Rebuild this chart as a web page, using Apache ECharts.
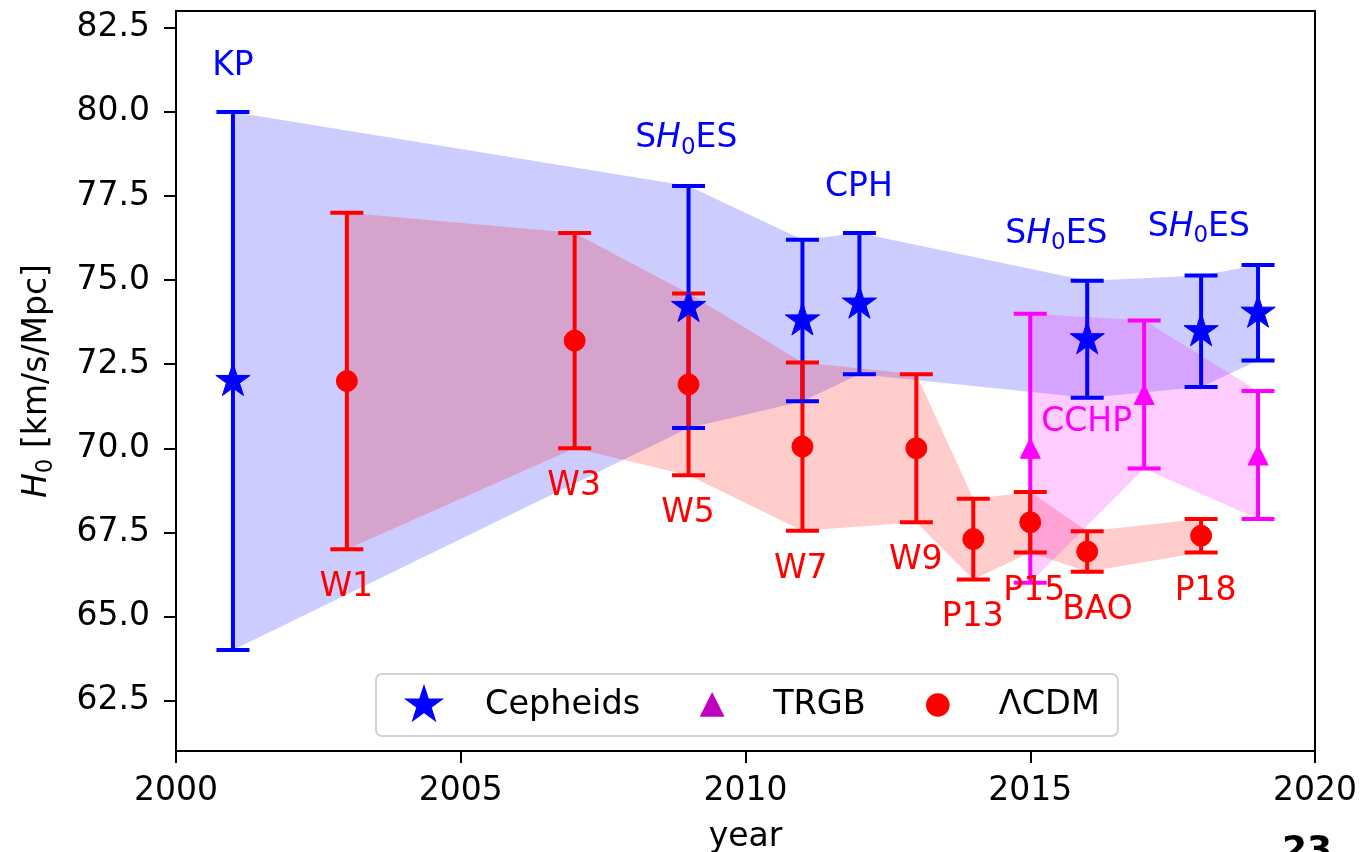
<!DOCTYPE html>
<html>
<head>
<meta charset="utf-8">
<script src="https://cdn.jsdelivr.net/npm/echarts@6/dist/echarts.min.js"></script>
<style>
  html, body { margin: 0; padding: 0; background: #fff; }
  #chart { width: 1365px; height: 852px; }
</style>
</head>
<body>
<div id="chart"></div>
<script>
// H0 measurements by year: value and symmetric 1-sigma error
const cephYear = [2001, 2009, 2011, 2012, 2016, 2018, 2019];
const cephH0   = [72.0, 74.2, 73.8, 74.3, 73.24, 73.48, 74.03];
const cephErr  = [8.0, 3.6, 2.4, 2.1, 1.74, 1.66, 1.42];

const trgbYear = [2015, 2017, 2019];
const trgbH0   = [70.0, 71.6, 69.8];
const trgbErr  = [4.0, 2.2, 1.9];

const lcdmYear = [2003, 2007, 2009, 2011, 2013, 2014, 2015, 2016, 2018];
const lcdmH0   = [72.0, 73.2, 71.9, 70.05, 70.0, 67.3, 67.8, 66.93, 67.4];
const lcdmErr  = [5.0, 3.2, 2.7, 2.5, 2.2, 1.2, 0.9, 0.6, 0.5];

// Text annotations placed in data coordinates
const cephNoteText = ['KP', 'SH0ES', 'CPH', 'SH0ES', 'SH0ES'];
const cephNoteX    = [2001.0, 2008.96, 2011.99, 2015.46, 2017.96];
const cephNoteY    = [81.36, 79.2, 77.75, 76.37, 76.57];

const trgbNoteText = ['CCHP'];
const trgbNoteX    = [2015.99];
const trgbNoteY    = [70.76];

const lcdmNoteText = ['W1', 'W3', 'W5', 'W7', 'W9', 'P13', 'P15', 'BAO', 'P18'];
const lcdmNoteX    = [2002.99, 2006.99, 2008.99, 2010.97, 2012.99, 2013.99, 2015.07, 2016.18, 2018.08];
const lcdmNoteY    = [65.85, 68.86, 68.07, 66.41, 66.66, 64.96, 65.74, 65.19, 65.74];

// Axis ticks
const xTicks = [2000, 2005, 2010, 2015, 2020];
const yTicks = [62.5, 65.0, 67.5, 70.0, 72.5, 75.0, 77.5, 80.0, 82.5];

const FONT = 'DejaVu Sans';
const BLUE = '#0000ff', RED = '#ff0000', MAGENTA = '#ff00ff', PURPLE = '#bf00bf';

// Marker paths; the leading moves pin a square bounding box so the
// glyph sits centred and keeps its proportions.
const STAR = 'path://M0 0M200 200M100 0L122.45 69.1L195.11 69.1L136.33 111.8L158.78 180.9L100 138.2L41.22 180.9L63.67 111.8L4.89 69.1L77.55 69.1Z';
const LEG_TRI = 'path://M0 0M200 200M100 40L160 160L40 160Z';
const LEG_CIRC = 'path://M0 0M200 200M160 100A60 60 0 1 1 40 100A60 60 0 1 1 160 100Z';

function rows(xs, ys, es) {
  return xs.map((x, i) => es ? [x, ys[i], es[i]] : [x, ys[i]]);
}
function noteRows(xs, ys, ts) {
  return xs.map((x, i) => [x, ys[i], ts[i]]);
}

// Shaded band joining the error-bar ends of one group
function bandSeries(xs, ys, es, fill) {
  return {
    type: 'custom',
    silent: true,
    z: 1,
    data: [[xs[0], ys[0]]],
    renderItem: function (params, api) {
      const pts = [];
      for (let i = 0; i < xs.length; i++) pts.push(api.coord([xs[i], ys[i] + es[i]]));
      for (let i = xs.length - 1; i >= 0; i--) pts.push(api.coord([xs[i], ys[i] - es[i]]));
      return { type: 'polygon', shape: { points: pts }, style: { fill: fill } };
    }
  };
}

// Vertical error bars with caps
function errorSeries(xs, ys, es, color) {
  return {
    type: 'custom',
    silent: true,
    z: 2,
    data: rows(xs, ys, es),
    renderItem: function (params, api) {
      const x = api.value(0), y = api.value(1), e = api.value(2);
      const t = api.coord([x, y + e]);
      const b = api.coord([x, y - e]);
      const hw = 16.5;
      const st = { stroke: color, lineWidth: 4 };
      return {
        type: 'group',
        children: [
          { type: 'line', z2: 0, shape: { x1: t[0], y1: t[1], x2: b[0], y2: b[1] }, style: st },
          { type: 'line', z2: 10, shape: { x1: t[0] - hw, y1: t[1], x2: t[0] + hw, y2: t[1] }, style: st },
          { type: 'line', z2: 10, shape: { x1: b[0] - hw, y1: b[1], x2: b[0] + hw, y2: b[1] }, style: st }
        ]
      };
    }
  };
}

function markerSeries(name, xs, ys, symbol, size, color) {
  return {
    name: name,
    type: 'scatter',
    z: 3,
    silent: true,
    symbol: symbol,
    symbolSize: size,
    itemStyle: { color: color, opacity: 1, borderColor: color, borderWidth: 1 },
    data: rows(xs, ys)
  };
}

// "H0" is set as an italic H with a lowered subscript zero
function mathText(s) {
  return s.replace('H0', '{i|H}{s|0}');
}

function mathRich(color, size) {
  return {
    i: { fontStyle: 'italic', color: color, fontFamily: FONT, fontSize: size },
    s: { color: color, fontFamily: FONT, fontSize: Math.round(size * 0.7), padding: [Math.round(size * 0.56), 0, 0, 0] }
  };
}

function noteSeries(xs, ys, ts, color) {
  return {
    type: 'scatter',
    z: 4,
    silent: true,
    symbolSize: 1,
    itemStyle: { color: 'rgba(0,0,0,0)', opacity: 1 },
    data: noteRows(xs, ys, ts),
    label: {
      show: true,
      position: 'inside',
      formatter: p => mathText(p.value[2]),
      color: color,
      opacity: 1,
      textBorderWidth: 0,
      fontFamily: FONT,
      fontSize: 33,
      rich: mathRich(color, 33)
    }
  };
}

const chart = echarts.init(document.getElementById('chart'), null, { renderer: 'canvas' });

chart.setOption({
  animation: false,
  backgroundColor: '#ffffff',
  grid: {
    left: 176, right: 50, top: 11, bottom: 101,
    show: true, borderColor: '#000', borderWidth: 2,
    containLabel: false,
    outerBoundsMode: 'none'
  },
  xAxis: {
    type: 'value',
    min: 2000, max: 2020, interval: 5,
    name: 'year',
    nameLocation: 'middle',
    nameGap: 70,
    nameTextStyle: { fontFamily: FONT, fontSize: 33, color: '#000' },
    axisLine: { lineStyle: { color: '#000', width: 2 } },
    axisTick: { length: 12, lineStyle: { color: '#000', width: 2 } },
    axisLabel: {
      formatter: v => String(v),
      fontFamily: FONT, fontSize: 33, color: '#000', margin: 24
    },
    splitLine: { show: false }
  },
  yAxis: {
    type: 'value',
    min: 61, max: 83,
    name: mathText('H0 [km/s/Mpc]'),
    nameLocation: 'middle',
    nameGap: 118,
    nameTextStyle: {
      fontFamily: FONT, fontSize: 33, color: '#000',
      rich: mathRich('#000', 33)
    },
    axisLine: { show: true, lineStyle: { color: '#000', width: 2 } },
    axisTick: { show: true, length: 12, customValues: yTicks, lineStyle: { color: '#000', width: 2 } },
    axisLabel: {
      customValues: yTicks,
      formatter: v => Number(v).toFixed(1),
      fontFamily: FONT, fontSize: 33, color: '#000', margin: 26
    },
    splitLine: { show: false }
  },
  legend: {
    left: 376, top: 674,
    orient: 'horizontal',
    selectedMode: false,
    padding: [12, 18, 12, 29],
    itemWidth: 36, itemHeight: 36,
    itemGap: 53,
    backgroundColor: 'rgba(255,255,255,0.8)',
    borderColor: '#d2d2d2', borderWidth: 2, borderRadius: 6,
    textStyle: { fontFamily: FONT, fontSize: 33.5, color: '#000', padding: [0, 0, 0, 38] },
    data: [
      { name: 'Cepheids', icon: STAR, itemStyle: { color: BLUE, borderColor: BLUE } },
      { name: 'TRGB', icon: LEG_TRI, itemStyle: { color: PURPLE, borderColor: PURPLE } },
      { name: 'ΛCDM', icon: LEG_CIRC, itemStyle: { color: RED, borderColor: RED } }
    ]
  },
  graphic: [
    {
      type: 'text', x: 1307, y: 834,
      style: { text: '23', fontFamily: FONT, fontWeight: 'bold', fontSize: 36, fill: '#000', align: 'center', verticalAlign: 'top' }
    }
  ],
  series: [
    bandSeries(cephYear, cephH0, cephErr, 'rgba(0,0,255,0.2)'),
    bandSeries(lcdmYear, lcdmH0, lcdmErr, 'rgba(255,0,0,0.2)'),
    bandSeries(trgbYear, trgbH0, trgbErr, 'rgba(255,0,255,0.2)'),
    errorSeries(cephYear, cephH0, cephErr, BLUE),
    errorSeries(trgbYear, trgbH0, trgbErr, MAGENTA),
    errorSeries(lcdmYear, lcdmH0, lcdmErr, RED),
    markerSeries('Cepheids', cephYear, cephH0, STAR, 36, BLUE),
    markerSeries('TRGB', trgbYear, trgbH0, 'triangle', [20, 20], MAGENTA),
    markerSeries('ΛCDM', lcdmYear, lcdmH0, 'circle', 21, RED),
    noteSeries(cephNoteX, cephNoteY, cephNoteText, BLUE),
    noteSeries(trgbNoteX, trgbNoteY, trgbNoteText, MAGENTA),
    noteSeries(lcdmNoteX, lcdmNoteY, lcdmNoteText, RED)
  ]
});
</script>
</body>
</html>
